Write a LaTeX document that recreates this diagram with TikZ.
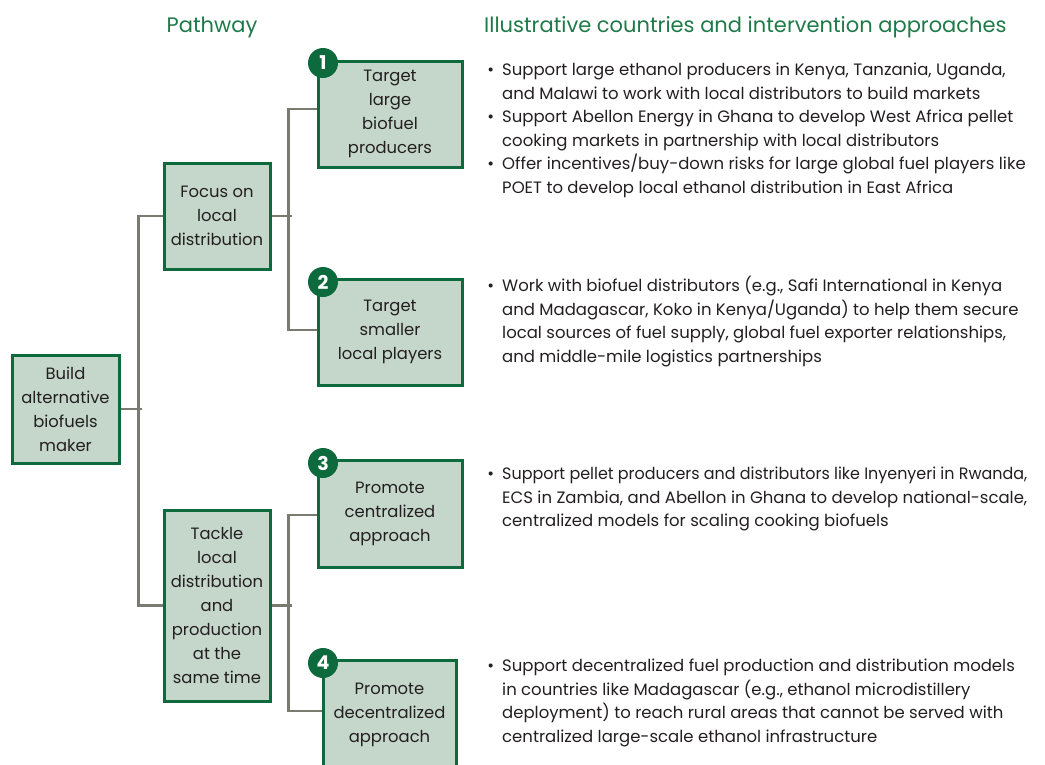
\documentclass[tikz,border=0pt]{standalone}
\usepackage{fontspec}
\setmainfont{Poppins}
\definecolor{boxfill}{HTML}{C5D6CA}
\definecolor{boxline}{HTML}{0C6A3C}
\definecolor{connline}{HTML}{7A7B70}
\definecolor{headgreen}{HTML}{1F7A48}
\definecolor{txt}{HTML}{231F20}
\tikzset{
  pbox/.style={draw=boxline, line width=3pt, fill=boxfill, align=center, inner sep=0pt,
    text=txt, font=\fontsize{16.4}{24}\selectfont},
  conn/.style={draw=connline, line width=2.8pt},
  numdot/.style={circle, fill=boxline, minimum size=30pt, inner sep=0pt, text=white,
    font=\fontsize{19}{19}\selectfont\bfseries},
  bul/.style={anchor=north west, align=left, inner sep=0pt, text=txt,
    font=\fontsize{16.5}{23.5}\selectfont},
  head/.style={text=headgreen, inner sep=0pt, font=\fontsize{21}{24}\selectfont}
}
\newcommand{\bl}{\llap{\textbullet\hspace{8pt}}}
\newcommand{\fitline}[2]{\resizebox{#1}{\height}{#2}}
\begin{document}
\begin{tikzpicture}[x=1pt,y=-1pt]
\useasboundingbox (0,0) rectangle (1045,764);
\clip (0,0) rectangle (1045,764);
% headers
\node[head] (hpath) at (212,27) {Pathway};
\node[head, anchor=west] (hill) at (484,27) {Illustrative countries and intervention approaches};
% boxes
\node[pbox, minimum width=107pt, minimum height=108pt] (build) at (65.5,409) {Build\\alternative\\biofuels\\maker};
\node[pbox, minimum width=106pt, minimum height=106pt] (focus) at (217,216) {Focus on\\local\\distribution};
\node[pbox, minimum width=106pt, minimum height=191pt] (tackle) at (217,605.5) {Tackle\\local\\distribution\\and\\production\\at the\\same time};
\node[pbox, minimum width=144pt, minimum height=106pt] (b1) at (390,114) {Target\\large\\biofuel\\producers};
\node[pbox, minimum width=144pt, minimum height=106pt] (b2) at (390,332) {Target\\smaller\\local players};
\node[pbox, minimum width=144pt, minimum height=107pt] (b3) at (390,513.5) {Promote\\centralized\\approach};
\node[pbox, minimum width=133pt, minimum height=110pt] (b4) at (389.5,715) {Promote\\decentralized\\approach};
% connectors
\draw[conn] (build.east) -- ++(21,0) coordinate (jl);
\draw[conn] (focus.west) -- ++(-24,0) |- (tackle.west);
\draw[conn] ([yshift=5pt]b1.west) -- ++(-28,0) |- ([yshift=2pt]b2.west);
\draw[conn] (focus.east) -- ++(20,0) coordinate (jr1);
\draw[conn] ([yshift=-1.5pt]b3.west) -- ++(-28,0) |- ([yshift=4pt]b4.west);
\draw[conn] (tackle.east) -- ++(20,0) coordinate (jr2);
% numbers
\node[numdot] (n1) at (323,63) {1};
\node[numdot] (n2) at (323,282) {2};
\node[numdot] (n3) at (323,463) {3};
\node[numdot] (n4) at (323,663) {4};
% bullet texts
\node[bul] (t1) at (502,63) {\bl Support large ethanol producers in Kenya, Tanzania, Uganda,\\and Malawi to work with local distributors to build markets\\\bl Support Abellon Energy in Ghana to develop West Africa pellet\\cooking markets in partnership with local distributors\\\bl Offer incentives/buy-down risks for large global fuel players like\\POET to develop local ethanol distribution in East Africa};
\node[bul] (t2) at (502,276) {\bl Work with biofuel distributors (e.g., Safi International in Kenya\\and Madagascar, Koko in Kenya/Uganda) to help them secure\\local sources of fuel supply, global fuel exporter relationships,\\and middle-mile logistics partnerships};
\node[bul] (t3) at (502,467) {\bl\fitline{525pt}{Support pellet producers and distributors like Inyenyeri in Rwanda,}\\\fitline{525pt}{ECS in Zambia, and Abellon in Ghana to develop national-scale,}\\centralized models for scaling cooking biofuels};
\node[bul] (t4) at (502,659) {\bl Support decentralized fuel production and distribution models\\in countries like Madagascar (e.g., ethanol microdistillery\\deployment) to reach rural areas that cannot be served with\\centralized large-scale ethanol infrastructure};
\end{tikzpicture}
\end{document}
